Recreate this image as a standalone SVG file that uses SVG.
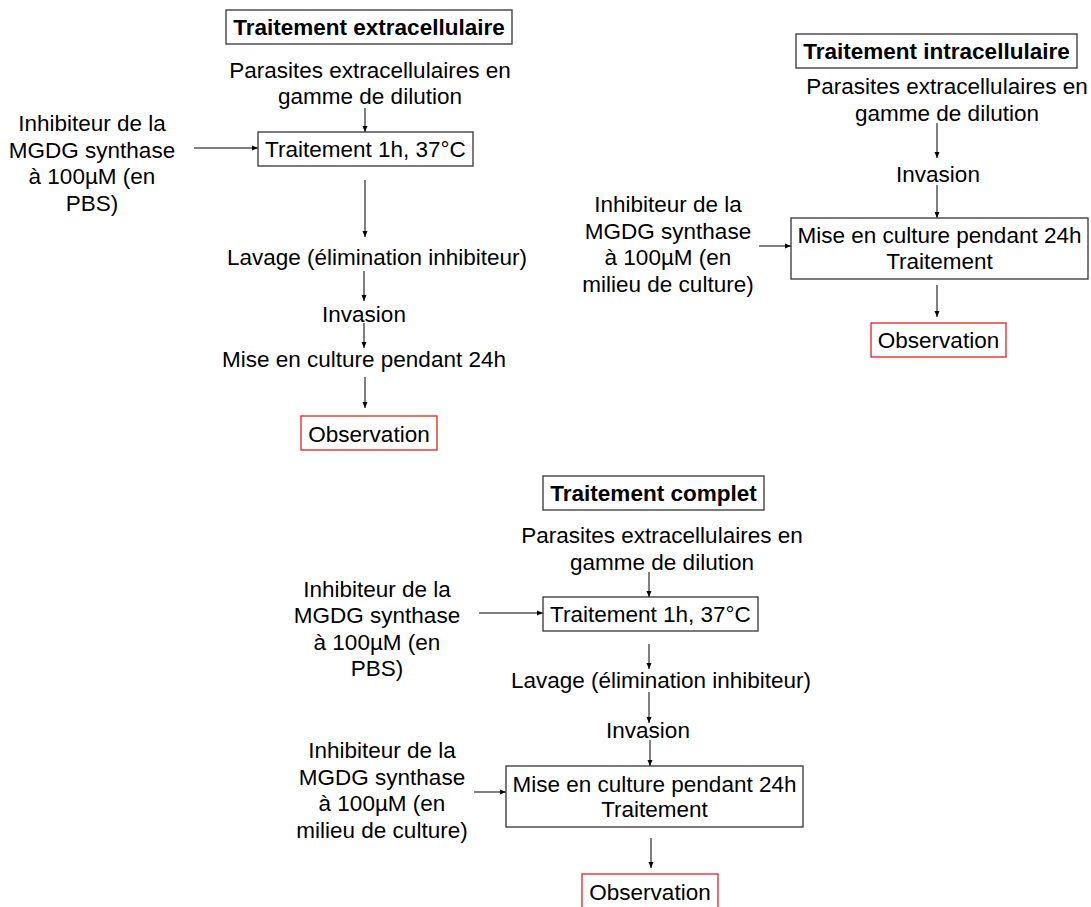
<svg xmlns="http://www.w3.org/2000/svg" width="1091" height="907" viewBox="0 0 1091 907">
<style>
text{font-family:"Liberation Sans",Arial,sans-serif;font-size:22.5px;fill:#000;text-anchor:middle}
.t{font-weight:bold}
.box{fill:#fff;stroke:#333;stroke-width:1.3}
.obs{fill:#fff;stroke:#e82020;stroke-width:1.3}
.c{stroke:#000;stroke-width:1;fill:none;marker-end:url(#ah)}
</style>
<defs>
<marker id="ah" markerUnits="userSpaceOnUse" markerWidth="6" markerHeight="6" refX="6" refY="3" orient="auto">
<path d="M0,0.5 L6,3 L0,5.5 z" fill="#000"/>
</marker>
</defs>
<rect width="1091" height="907" fill="#fff"/>

<g id="connectors">
<line class="c" x1="365" y1="108" x2="365" y2="132"/>
<line class="c" x1="194" y1="148" x2="258" y2="148"/>
<line class="c" x1="365" y1="180" x2="365" y2="237"/>
<line class="c" x1="364" y1="271" x2="364" y2="301"/>
<line class="c" x1="364" y1="323" x2="364" y2="348"/>
<line class="c" x1="365" y1="377" x2="365" y2="408"/>

<line class="c" x1="937" y1="123" x2="937" y2="158"/>
<line class="c" x1="937" y1="185" x2="937" y2="218"/>
<line class="c" x1="759" y1="246" x2="791" y2="246"/>
<line class="c" x1="937" y1="285" x2="937" y2="317"/>

<line class="c" x1="649" y1="572" x2="649" y2="597"/>
<line class="c" x1="479" y1="613" x2="543" y2="613"/>
<line class="c" x1="649" y1="644" x2="649" y2="669"/>
<line class="c" x1="649" y1="692" x2="649" y2="723"/>
<line class="c" x1="650" y1="740" x2="650" y2="766"/>
<line class="c" x1="474" y1="792" x2="506" y2="792"/>
<line class="c" x1="651" y1="838" x2="651" y2="868"/>
</g>

<!-- Traitement extracellulaire -->
<g id="title-extra"><rect class="box" x="226" y="10" width="286" height="34"/><text class="t" x="369" y="35">Traitement extracellulaire</text></g>
<g id="parasites-extra"><text x="370" y="78">Parasites extracellulaires en</text><text x="370" y="104">gamme de dilution</text></g>
<g id="inhib-extra"><text x="92" y="131">Inhibiteur de la</text><text x="92" y="158">MGDG synthase</text><text x="92" y="184">à 100µM (en</text><text x="92" y="211">PBS)</text></g>
<g id="trait-extra"><rect class="box" x="258" y="132" width="215" height="34"/><text x="365.5" y="157">Traitement 1h, 37°C</text></g>
<g id="lavage-extra"><text x="377" y="265">Lavage (élimination inhibiteur)</text></g>
<g id="invasion-extra"><text x="364" y="322">Invasion</text></g>
<g id="culture-extra"><text x="364" y="367">Mise en culture pendant 24h</text></g>
<g id="obs-extra"><rect class="obs" x="301" y="416" width="136" height="34"/><text x="369" y="442">Observation</text></g>

<!-- Traitement intracellulaire -->
<g id="title-intra"><rect class="box" x="796" y="34" width="281" height="34"/><text class="t" x="936.5" y="59">Traitement intracellulaire</text></g>
<g id="parasites-intra"><text x="947" y="94">Parasites extracellulaires en</text><text x="947" y="121">gamme de dilution</text></g>
<g id="invasion-intra"><text x="938" y="182">Invasion</text></g>
<g id="inhib-intra"><text x="668" y="212">Inhibiteur de la</text><text x="668" y="239">MGDG synthase</text><text x="668" y="265">à 100µM (en</text><text x="668" y="292">milieu de culture)</text></g>
<g id="culture-intra"><rect class="box" x="791" y="218" width="297" height="61"/><text x="939.5" y="243">Mise en culture pendant 24h</text><text x="939.5" y="269">Traitement</text></g>
<g id="obs-intra"><rect class="obs" x="871" y="323" width="135" height="34"/><text x="938.5" y="348">Observation</text></g>

<!-- Traitement complet -->
<g id="title-complet"><rect class="box" x="543" y="476" width="221" height="34"/><text class="t" x="653.5" y="501">Traitement complet</text></g>
<g id="parasites-complet"><text x="662" y="543">Parasites extracellulaires en</text><text x="662" y="570">gamme de dilution</text></g>
<g id="inhib1-complet"><text x="377" y="597">Inhibiteur de la</text><text x="377" y="623">MGDG synthase</text><text x="377" y="650">à 100µM (en</text><text x="377" y="676">PBS)</text></g>
<g id="trait-complet"><rect class="box" x="543" y="597" width="215" height="34"/><text x="650.5" y="622">Traitement 1h, 37°C</text></g>
<g id="lavage-complet"><text x="661" y="688">Lavage (élimination inhibiteur)</text></g>
<g id="invasion-complet"><text x="648" y="738">Invasion</text></g>
<g id="inhib2-complet"><text x="382" y="758">Inhibiteur de la</text><text x="382" y="785">MGDG synthase</text><text x="382" y="811">à 100µM (en</text><text x="382" y="838">milieu de culture)</text></g>
<g id="culture-complet"><rect class="box" x="506" y="766" width="297" height="61"/><text x="654.5" y="792">Mise en culture pendant 24h</text><text x="654.5" y="817">Traitement</text></g>
<g id="obs-complet"><rect class="obs" x="582" y="874" width="136" height="36"/><text x="650" y="900">Observation</text></g>
</svg>
